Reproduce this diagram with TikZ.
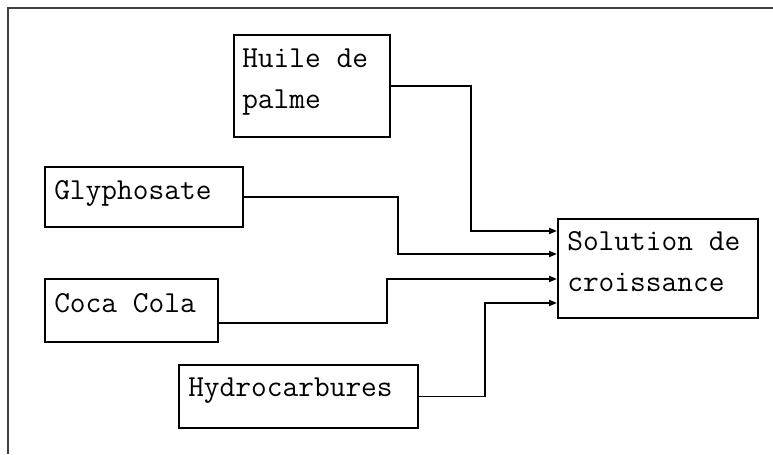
\documentclass[tikz,border=0pt]{standalone}
\usetikzlibrary{arrows.meta,calc}
\definecolor{framegray}{HTML}{404040}
\begin{document}
\begin{tikzpicture}[x=0.75pt,y=-0.75pt,
  box/.style={draw=black,line width=1.4pt,rectangle,inner sep=0pt,anchor=north west},
  lbl/.style={anchor=base west,inner sep=0pt,font=\fontsize{22.9}{30.75}\selectfont\ttfamily,align=left},
  conn/.style={line width=1.4pt,-{Triangle[length=6pt,width=4.5pt]}}]
\useasboundingbox (0,0) rectangle (773,454);
\draw[framegray,line width=1.2pt] (8,454) -- (8,8) -- (773,8);
% boxes
\node[box,minimum width=117pt,minimum height=76.5pt] (huile) at (233,34) {};
\node[box,minimum width=148.5pt,minimum height=45pt] (gly) at (44,166) {};
\node[box,minimum width=129.75pt,minimum height=47.25pt] (coca) at (44,278) {};
\node[box,minimum width=179.25pt,minimum height=47.25pt] (hydro) at (178,364) {};
\node[box,minimum width=150pt,minimum height=74.25pt] (sol) at (557,218) {};
% labels
\node[lbl] (huileT) at (242,108) {Huile de\\palme};
\node[lbl] (glyT) at (54,199) {Glyphosate};
\node[lbl] (cocaT) at (54,312) {Coca Cola};
\node[lbl] (hydroT) at (188,396) {Hydrocarbures};
\node[lbl] (solT) at (567,291) {Solution de\\croissance};
% bend points
\coordinate (hb) at (471,231);
\coordinate (gb) at (398,254);
\coordinate (cs) at (387,323);
\coordinate (cb) at (387,279);
\coordinate (yb) at (485,303);
% connectors
\draw[conn] (huile.east) -| (hb) -- (hb -| sol.west);
\draw[conn] (gly.east) -| (gb) -- (gb -| sol.west);
\draw[conn] (cs -| coca.east) -| (cb) -- (cb -| sol.west);
\draw[conn] (hydro.east) -| (yb) -- (yb -| sol.west);
\end{tikzpicture}
\end{document}
